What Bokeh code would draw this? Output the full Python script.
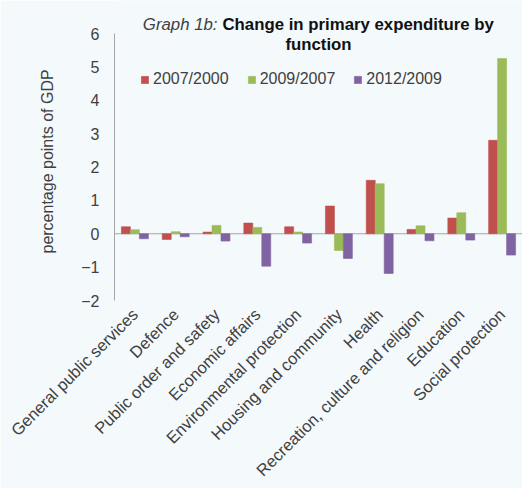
from math import pi

from bokeh.embed import file_html
from bokeh.resources import INLINE
from bokeh.plotting import figure
from bokeh.models import (ColumnDataSource, FactorRange, Range1d, FixedTicker,
                          Span, Label, Title)
from bokeh.transform import dodge

# Change in primary expenditure by function, percentage points of GDP
categories = [
    "General public services",
    "Defence",
    "Public order and safety",
    "Economic affairs",
    "Environmental protection",
    "Housing and community",
    "Health",
    "Recreation, culture and religion",
    "Education",
    "Social protection",
]
series_names = ["2007/2000", "2009/2007", "2012/2009"]
change_2007_2000 = [0.21, -0.17, 0.05, 0.32, 0.21, 0.83, 1.60, 0.13, 0.47, 2.80]
change_2009_2007 = [0.12, 0.06, 0.25, 0.19, 0.05, -0.50, 1.50, 0.24, 0.63, 5.25]
change_2012_2009 = [-0.15, -0.09, -0.22, -0.97, -0.28, -0.74, -1.19, -0.21, -0.19, -0.64]
y_ticks = [-2, -1, 0, 1, 2, 3, 4, 5, 6]

colors = ["#C0504D", "#9BBB59", "#8064A2"]
bg = "#F4F9FC"
font = "Liberation Sans"

source = ColumnDataSource(dict(
    cat=categories,
    s1=change_2007_2000,
    s2=change_2009_2007,
    s3=change_2012_2009,
))

# the frame reaches the top edge so the title can sit inside it;
# the value axis itself is bounded to -2..6
p = figure(
    width=522, height=488,
    x_range=FactorRange(*categories, range_padding=0),
    y_range=Range1d(-2, 6.99),
    output_backend="svg", toolbar_location=None,
    min_border_left=114, min_border_right=0,
    min_border_top=0, min_border_bottom=188,
)
p.background_fill_color = bg
p.border_fill_color = bg
p.outline_line_color = None
p.xgrid.visible = False
p.ygrid.visible = False

# zero line acting as the category axis
p.add_layout(Span(location=0, dimension="width", line_color="#A6A6A6",
                  line_width=1, level="underlay"))

offsets = [-0.22, 0.0, 0.22]
for col, off, c, name in zip(["s1", "s2", "s3"], offsets, colors, series_names):
    p.vbar(x=dodge("cat", off, range=p.x_range), top=col, width=0.22,
           source=source, fill_color=c, line_color=c, line_alpha=0.6,
           legend_label=name)

# y axis
yax = p.yaxis[0]
yax.bounds = (-2, 6)
yax.ticker = FixedTicker(ticks=y_ticks)
yax.axis_line_color = "#A6A6A6"
yax.major_tick_line_color = None
yax.minor_tick_line_color = None
yax.major_tick_out = 0
yax.major_label_standoff = 15
yax.major_label_text_font = font
yax.major_label_text_font_size = "16px"
yax.major_label_text_color = "#404040"

# y axis title, placed along the -2..6 span
p.add_layout(Title(text="percentage points of GDP", align="left",
                   vertical_align="middle", offset=47, standoff=44,
                   text_font=font, text_font_size="16px",
                   text_font_style="normal", text_color="#404040"), "left")

# category labels
xax = p.xaxis[0]
xax.axis_line_color = None
xax.major_tick_line_color = None
xax.minor_tick_line_color = None
xax.major_tick_out = 0
xax.major_label_standoff = 11
xax.major_label_orientation = pi / 4
xax.major_label_text_font = font
xax.major_label_text_font_size = "16.5px"
xax.major_label_text_color = "#404040"

# legend
lg = p.legend[0]
lg.orientation = "horizontal"
lg.location = (26, 212)
lg.padding = 0
lg.margin = 0
lg.spacing = 18
lg.glyph_width = 9
lg.glyph_height = 9
lg.label_standoff = 4
lg.label_text_font = font
lg.label_text_font_size = "16px"
lg.label_text_color = "#404040"
lg.background_fill_alpha = 0
lg.border_line_color = None

# two-line title: italic prefix, bold heading
p.add_layout(Label(x=103, y=276.5, x_units="screen", y_units="screen",
                   text="Graph 1b:", text_font=font, text_font_size="16.8px",
                   text_font_style="italic", text_color="#404040",
                   text_align="right", text_baseline="alphabetic"))
p.add_layout(Label(x=108, y=276.5, x_units="screen", y_units="screen",
                   text="Change in primary expenditure by", text_font=font,
                   text_font_size="16.8px", text_font_style="bold",
                   text_color="#111111", text_align="left",
                   text_baseline="alphabetic"))
p.add_layout(Label(x=204, y=256.5, x_units="screen", y_units="screen",
                   text="function", text_font=font, text_font_size="16.8px",
                   text_font_style="bold", text_color="#111111",
                   text_align="center", text_baseline="alphabetic"))

open("out.html", "w").write(file_html(p, INLINE))
